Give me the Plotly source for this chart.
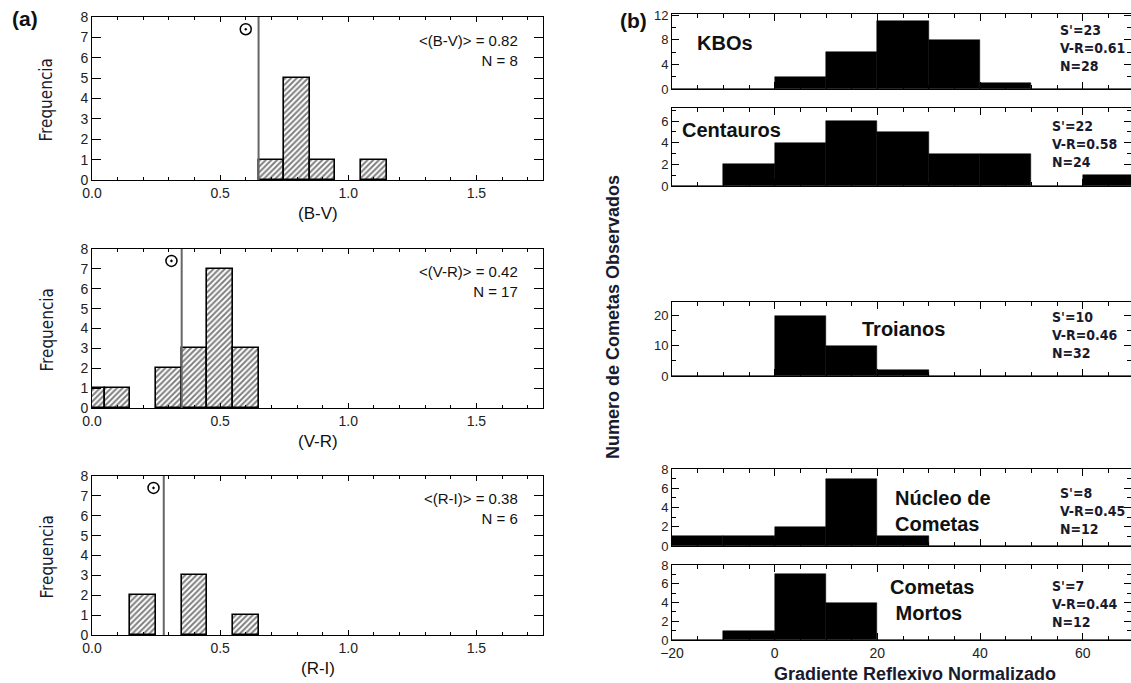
import plotly.graph_objects as go

# ---------------- data ----------------
# panel (a): colour histograms (bin centres, counts)
bv_centers = [0.7, 0.8, 0.9, 1.1]
bv_counts = [1, 5, 1, 1]
vr_centers = [0.0, 0.1, 0.3, 0.4, 0.5, 0.6]
vr_counts = [1, 1, 2, 3, 7, 3]
ri_centers = [0.2, 0.4, 0.6]
ri_counts = [2, 3, 1]
left_bin_width = 0.1

sun_colors = [0.65, 0.35, 0.28]          # solar colour (vertical line)
sun_symbol_x = [0.60, 0.31, 0.24]        # sun symbol position
sun_symbol_y = [7.4, 7.4, 7.4]
mean_labels = ["&lt;(B-V)&gt; = 0.82<br>N = 8",
               "&lt;(V-R)&gt; = 0.42<br>N = 17",
               "&lt;(R-I)&gt; = 0.38<br>N = 6"]
left_xtitles = ["(B-V)", "(V-R)", "(R-I)"]

# panel (b): normalized reflectivity gradient histograms
grad_centers = [-15, -5, 5, 15, 25, 35, 45, 55, 65]
grad_bin_width = 10
kbo_counts = [0, 0, 2, 6, 11, 8, 1, 0, 0]
centauro_counts = [0, 2, 4, 6, 5, 3, 3, 0, 1]
troiano_counts = [0, 0, 20, 10, 2, 0, 0, 0, 0]
nucleo_counts = [1, 1, 2, 7, 1, 0, 0, 0, 0]
mortos_counts = [0, 1, 7, 4, 0, 0, 0, 0, 0]
group_names = ["KBOs", "Centauros", "Troianos", "Núcleo de<br>Cometas", "Cometas<br> Mortos"]
group_stats = ["S'=23<br>V-R=0.61<br>N=28",
               "S'=22<br>V-R=0.58<br>N=24",
               "S'=10<br>V-R=0.46<br>N=32",
               "S'=8<br>V-R=0.45<br>N=12",
               "S'=7<br>V-R=0.44<br>N=12"]

# ---------------- layout helpers ----------------
W, H = 1131, 683
def px_x(p): return p / W
def px_y(p): return 1 - p / H
def sfx(n): return "" if n == 1 else str(n)

FONT = "Liberation Sans, Arial, sans-serif"
NARROW = "Liberation Sans Narrow, DejaVu Sans Condensed, Liberation Sans, sans-serif"
TXT = "#1a1a2e"

fig = go.Figure()
layout = dict(width=W, height=H, margin=dict(l=0, r=0, t=0, b=0, pad=0, autoexpand=False),
              paper_bgcolor="white", plot_bgcolor="white", showlegend=False,
              bargap=0, barmode="overlay")
annotations = []
shapes = []

def axis_common():
    return dict(showline=True, linecolor="black", linewidth=1, mirror="ticks",
                showgrid=False, zeroline=False, ticks="inside", automargin=False,
                tickcolor="black", fixedrange=True)

def paper_text(x, y, text, font, angle=0):
    return dict(xref="paper", yref="paper", x=px_x(x), y=px_y(y), text=text,
                showarrow=False, xanchor="center", yanchor="middle",
                textangle=angle, font=font)

# left panels
left_px = [(17, 180), (249, 408), (476, 635)]
left_data = [(bv_centers, bv_counts), (vr_centers, vr_counts), (ri_centers, ri_counts)]
for i, ((top, bot), (cx, cy)) in enumerate(zip(left_px, left_data)):
    n = i + 1
    s = sfx(n)
    xa = axis_common()
    xa.update(domain=[px_x(92), px_x(543)], range=[0, 1.76], dtick=0.5, tick0=0,
              tickformat=".1f", ticklen=5, anchor=f"y{s}",
              tickfont=dict(family=FONT, size=14, color="#222"),
              minor=dict(dtick=0.1, ticklen=3, ticks="inside", tickcolor="black"))
    ya = axis_common()
    ya.update(domain=[px_y(bot), px_y(top)], range=[0, 8], dtick=1, ticklen=9,
              anchor=f"x{s}", tickfont=dict(family=FONT, size=14, color="#222"))
    layout[f"xaxis{s}"] = xa
    layout[f"yaxis{s}"] = ya
    fig.add_trace(go.Bar(x=cx, y=cy, width=[left_bin_width] * len(cx),
                         xaxis=f"x{s}", yaxis=f"y{s}",
                         marker=dict(color="white",
                                     line=dict(color="black", width=1.6),
                                     pattern=dict(shape="/", fgcolor="black",
                                                  bgcolor="white", size=4,
                                                  solidity=0.5))))
    fig.add_trace(go.Scatter(x=[sun_symbol_x[i]], y=[sun_symbol_y[i]], mode="markers",
                             xaxis=f"x{s}", yaxis=f"y{s}",
                             marker=dict(symbol="circle-open-dot", size=11,
                                         color="black", line=dict(width=1.5))))
    shapes.append(dict(type="line", xref=f"x{s}", yref=f"y{s} domain",
                       x0=sun_colors[i], x1=sun_colors[i], y0=0, y1=1,
                       line=dict(color="#666", width=2)))
    annotations.append(dict(xref=f"x{s}", yref=f"y{s}", x=1.67, y=6.35,
                            text=mean_labels[i], showarrow=False, xanchor="right",
                            align="right", font=dict(family=FONT, size=15, color="#111")))
    annotations.append(paper_text(46, (top + bot) / 2 + 2, "Frequencia",
                                  dict(family=NARROW, size=17, color=TXT), angle=-90))
    annotations.append(paper_text(318, bot + 33, left_xtitles[i],
                                  dict(family=FONT, size=17, color="#111")))

# right panels
right_px = [(14, 89), (108, 186), (302, 376), (469, 546), (565, 640)]
right_counts = [kbo_counts, centauro_counts, troiano_counts, nucleo_counts, mortos_counts]
right_yrange = [12.2, 7.2, 24.5, 8, 8]
right_dtick = [4, 2, 10, 2, 2]
right_minor = [2, 1, 5, 1, 1]
name_pos = [(-15.5, 7.5, "left", 20), (-18.4, 5.2, "left", 20), (25, 15.6, "center", 20),
            (23, 3.6, "left", 20), (22, 4.3, "left", 20)]
stat_pos = [(55.2, 6.7), (53.6, 3.9), (53.6, 13.5), (55.2, 3.6), (53.6, 3.8)]
for j, ((top, bot), counts) in enumerate(zip(right_px, right_counts)):
    n = j + 4
    last = (j == 4)
    xa = axis_common()
    xa.update(domain=[px_x(672), 1.0], range=[-20, 69.4], dtick=20, tick0=-20,
              ticklen=7, anchor=f"y{n}", showticklabels=last,
              tickfont=dict(family=FONT, size=14, color="#222"),
              minor=dict(dtick=5, ticklen=4, ticks="inside", tickcolor="black"))
    ya = axis_common()
    ya.update(domain=[px_y(bot), px_y(top)], range=[0, right_yrange[j]],
              dtick=right_dtick[j], ticklen=7, anchor=f"x{n}",
              tickfont=dict(family=FONT, size=13, color="#222"),
              minor=dict(dtick=right_minor[j], ticklen=4, ticks="inside", tickcolor="black"))
    layout[f"xaxis{n}"] = xa
    layout[f"yaxis{n}"] = ya
    fig.add_trace(go.Bar(x=grad_centers, y=counts, width=[grad_bin_width] * len(counts),
                         xaxis=f"x{n}", yaxis=f"y{n}",
                         marker=dict(color="black", line=dict(color="black", width=0.5))))
    nx, ny, anc, fs = name_pos[j]
    annotations.append(dict(xref=f"x{n}", yref=f"y{n}", x=nx, y=ny, text=f"<b>{group_names[j]}</b>",
                            showarrow=False, xanchor=anc, align="left",
                            font=dict(family=FONT, size=fs, color="#111")))
    sx, sy = stat_pos[j]
    annotations.append(dict(xref=f"x{n}", yref=f"y{n}", x=sx, y=sy, text=f"<b>{group_stats[j]}</b>",
                            showarrow=False, xanchor="left", align="left",
                            font=dict(family=NARROW, size=14, color=TXT)))

annotations += [
    paper_text(25, 19, "<b>(a)</b>", dict(family=FONT, size=21, color="#111")),
    paper_text(633, 20, "<b>(b)</b>", dict(family=FONT, size=21, color="#111")),
    paper_text(613, 317, "<b>Numero de Cometas Observados</b>",
               dict(family=FONT, size=18, color=TXT), angle=-90),
    paper_text(915, 674, "<b>Gradiente Reflexivo Normalizado</b>",
               dict(family=FONT, size=18, color=TXT)),
]
layout["annotations"] = annotations
layout["shapes"] = shapes
fig.update_layout(**layout)
fig.write_html("out.html")
